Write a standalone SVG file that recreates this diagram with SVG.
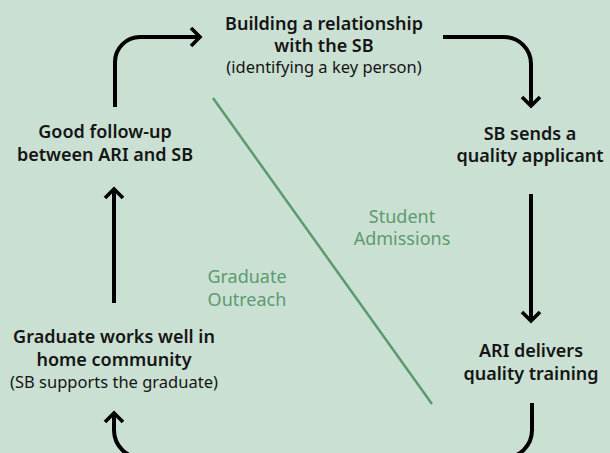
<svg xmlns="http://www.w3.org/2000/svg" width="610" height="453" viewBox="0 0 610 453">
<defs>
<marker id="chev" markerUnits="userSpaceOnUse" markerWidth="30" markerHeight="30" viewBox="-15 -15 30 30" refX="0" refY="0" orient="auto">
<path d="M-9,-9 L0,0 L-9,9" fill="none" stroke="#000" stroke-width="3.6" stroke-linecap="butt" stroke-linejoin="miter"/>
</marker>
<style>
.conn{fill:none;stroke:#000;stroke-width:4}
.b{font-family:"Noto Sans","Open Sans","DejaVu Sans",sans-serif;font-size:18px;font-weight:600;fill:#151515;text-anchor:middle}
.r{font-family:"Noto Sans","Open Sans","DejaVu Sans",sans-serif;font-size:16.5px;font-weight:400;fill:#151515;text-anchor:middle}
.g{font-family:"Noto Sans","Open Sans","DejaVu Sans",sans-serif;font-size:18px;font-weight:400;fill:#5e9a70;text-anchor:middle}
</style>
</defs>
<rect x="0" y="0" width="610" height="453" fill="#cae0d3"/>
<g id="connectors">
<path class="conn" d="M115,107 L115,62 A25,25 0 0 1 140,37 L200,37" marker-end="url(#chev)"/>
<path class="conn" d="M443,37 L504,37 A27,27 0 0 1 531,64 L531,106" marker-end="url(#chev)"/>
<path class="conn" d="M531,194 L531,321" marker-end="url(#chev)"/>
<path class="conn" d="M532,403 L532,430 A28,28 0 0 1 504,458 L142,458 A28,28 0 0 1 114,430 L114,413" marker-end="url(#chev)"/>
<path class="conn" d="M114,303 L114,189" marker-end="url(#chev)"/>
<line x1="213" y1="98" x2="432" y2="404" stroke="#5a9a6e" stroke-width="2.5"/>
</g>
<g id="n1">
<text class="b" x="324" y="30">Building a relationship</text>
<text class="b" x="324" y="52">with the SB</text>
<text class="r" x="324" y="73">(identifying a key person)</text>
</g>
<g id="n2">
<text class="b" x="530" y="140">SB sends a</text>
<text class="b" x="530" y="162">quality applicant</text>
</g>
<g id="n3">
<text class="b" x="531" y="357">ARI delivers</text>
<text class="b" x="531" y="380">quality training</text>
</g>
<g id="n4">
<text class="b" x="114" y="343">Graduate works well in</text>
<text class="b" x="114" y="366">home community</text>
<text class="r" x="114" y="388">(SB supports the graduate)</text>
</g>
<g id="n5">
<text class="b" x="105" y="138">Good follow-up</text>
<text class="b" x="105" y="161">between ARI and SB</text>
</g>
<g id="lbl-student">
<text class="g" x="402" y="223">Student</text>
<text class="g" x="402" y="245">Admissions</text>
</g>
<g id="lbl-grad">
<text class="g" x="247" y="283">Graduate</text>
<text class="g" x="247" y="306">Outreach</text>
</g>
</svg>
